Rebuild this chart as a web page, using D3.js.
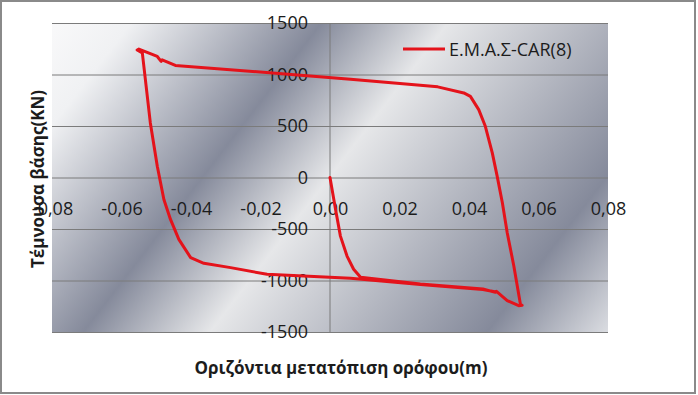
<!DOCTYPE html>
<html lang="el">
<head>
<meta charset="UTF-8">
<title>Τέμνουσα βάσης</title>
<style>
body { margin: 0; background: #fff; }
svg text { font-family: "Open Sans", sans-serif; fill: #1c1c1c; }
</style>
</head>
<body>
<svg id="chart" width="698" height="395"></svg>
<script src="https://d3js.org/d3.v7.min.js"></script>
<script>
// values (displacement in m, base shear in KN)
var dispX = [0, 0.0016, 0.0030, 0.0049, 0.0068, 0.0088, 0.026, 0.044, 0.0476, 0.0479, 0.051, 0.0543, 0.0553,
  0.0548, 0.0529, 0.0510, 0.0496, 0.0481, 0.0467, 0.0447, 0.0428, 0.0404, 0.0385, 0.031, 0.0059,
  -0.0445, -0.0483, -0.0486, -0.0497, -0.0550, -0.0555,
  -0.0540, -0.0517, -0.0497, -0.0478, -0.0459, -0.0435, -0.0401, -0.0363, -0.0286, -0.0181,
  0.0059, 0.026, 0.044, 0.0478];
var shearY = [0, -310, -569, -763, -891, -969, -1035, -1082, -1115, -1105, -1195, -1245, -1240,
  -1231, -859, -536, -245, 13, 239, 497, 659, 788, 821, 880, 955,
  1088, 1143, 1128, 1175, 1247, 1238,
  1208, 530, 109, -213, -407, -601, -778, -833, -875, -940,
  -979, -1040, -1088, -1112];
var xTicks = [-0.08, -0.06, -0.04, -0.02, 0, 0.02, 0.04, 0.06, 0.08];
var yTicks = [-1500, -1000, -500, 0, 500, 1000, 1500];
var seriesName = "Ε.Μ.Α.Σ-CAR(8)";

var svg = d3.select("#chart");
var pLeft = 52, pTop = 23, w = 556, h = 309;

var x = d3.scaleLinear().domain([-0.08, 0.08]).range([pLeft, pLeft + w]);
var y = d3.scaleLinear().domain([-1500, 1500]).range([pTop + h, pTop]);

var loc = d3.formatLocale({decimal: ",", thousands: ".", grouping: [3], currency: ["", ""], minus: "-"});
var fx = loc.format(".2f"), fy = loc.format("d");

// outer frame
svg.append("rect").attr("x", 1).attr("y", 1).attr("width", 694).attr("height", 392)
  .attr("fill", "#fff").attr("stroke", "#8a8a8a").attr("stroke-width", 2);

// metallic plot background (diagonal bands)
var grad = svg.append("defs").append("linearGradient").attr("id", "metal")
  .attr("gradientUnits", "userSpaceOnUse")
  .attr("x1", 52).attr("y1", 23).attr("x2", 549).attr("y2", 406);
[[0, "#f9f9fa"], [0.1, "#f0f1f3"], [0.34, "#858a9b"], [0.5, "#e6e7e9"], [0.85, "#858a9b"], [1, "#d9dbe0"]]
  .forEach(function(s){ grad.append("stop").attr("offset", s[0]).attr("stop-color", s[1]); });
svg.append("rect").attr("x", pLeft).attr("y", pTop).attr("width", w).attr("height", h)
  .attr("fill", "url(#metal)");

// horizontal gridlines
var grid = svg.append("g").attr("transform", "translate(" + pLeft + ",0)")
  .call(d3.axisLeft(y).tickValues(yTicks).tickSize(-w).tickFormat(""));
grid.select(".domain").remove();
grid.selectAll("line").attr("stroke", "#7b7b7b").attr("stroke-width", 1);

// vertical axis at x = 0
svg.append("line").attr("x1", x(0)).attr("x2", x(0)).attr("y1", pTop).attr("y2", pTop + h)
  .attr("stroke", "#7b7b7b");

// y tick labels next to the vertical axis
var ya = svg.append("g").attr("transform", "translate(" + (x(0) - 19) + ",0)")
  .call(d3.axisLeft(y).tickValues(yTicks).tickSize(0).tickFormat(fy));
ya.select(".domain").remove();
ya.selectAll("text").attr("font-size", 18).attr("fill", "#1c1c1c")
  .style("font-family", "'Open Sans', sans-serif");

// x tick labels below the zero line
var xa = svg.append("g").attr("transform", "translate(0," + (y(0) + 22) + ")")
  .call(d3.axisBottom(x).tickValues(xTicks).tickSize(0).tickFormat(fx));
xa.select(".domain").remove();
xa.selectAll("text").attr("font-size", 18).attr("fill", "#1c1c1c")
  .style("font-family", "'Open Sans', sans-serif");

// the hysteresis curve
var pts = dispX.map(function(d, i){ return [d, shearY[i]]; });
svg.append("path").datum(pts)
  .attr("fill", "none").attr("stroke", "#e4131b").attr("stroke-width", 3)
  .attr("stroke-linejoin", "round").attr("stroke-linecap", "round")
  .attr("d", d3.line().x(function(d){ return x(d[0]); }).y(function(d){ return y(d[1]); }));

// legend
svg.append("line").attr("x1", 403).attr("x2", 445).attr("y1", 49).attr("y2", 49)
  .attr("stroke", "#e4131b").attr("stroke-width", 3);
svg.append("text").attr("x", 449).attr("y", 55.5).attr("font-size", 18).text(seriesName);

// axis titles
svg.append("text").attr("x", 341).attr("y", 374).attr("text-anchor", "middle")
  .attr("font-size", 17).attr("font-weight", "bold").text("Οριζόντια μετατόπιση ορόφου(m)");
svg.append("text").attr("transform", "translate(44,179) rotate(-90)").attr("text-anchor", "middle")
  .attr("font-size", 17).attr("font-weight", "bold").text("Τέμνουσα βάσης(KN)");
</script>
</body>
</html>
